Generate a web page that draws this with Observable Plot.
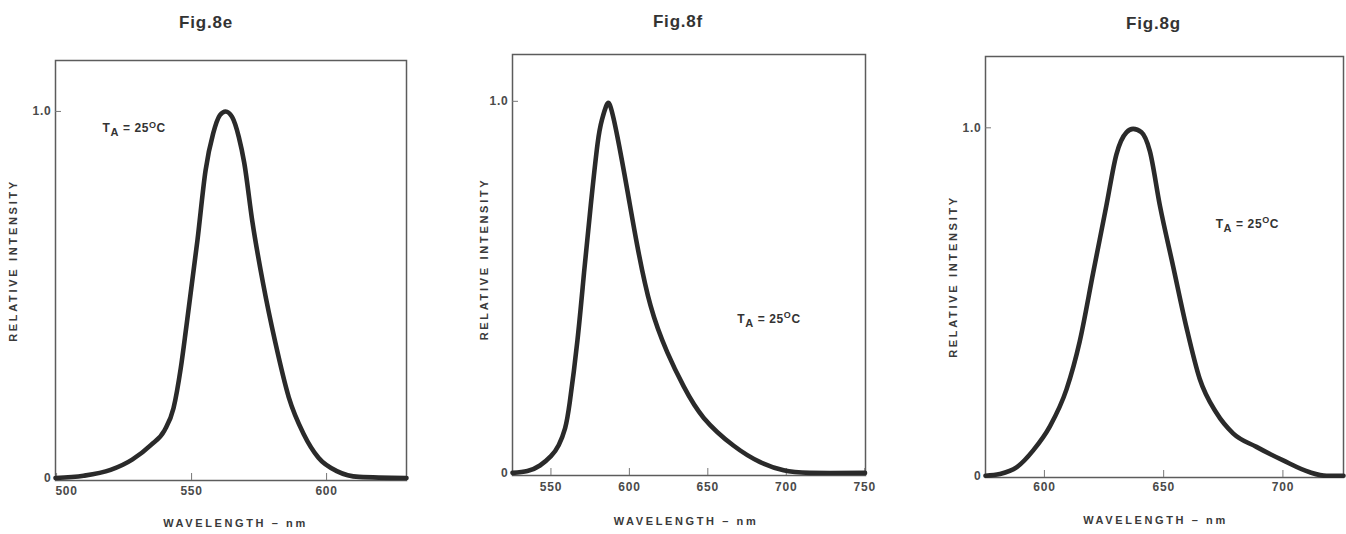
<!DOCTYPE html>
<html>
<head>
<meta charset="utf-8">
<script src="https://cdn.jsdelivr.net/npm/d3@7"></script>
<script src="https://cdn.jsdelivr.net/npm/@observablehq/plot@0.6"></script>
<style>
  body { margin: 0; background: #fff; }
  #wrap { position: relative; width: 1346px; height: 534px; background: #fff; overflow: hidden; }
  .panel { position: absolute; top: 0; }
  .panel svg text { font-weight: 700; }
</style>
</head>
<body>
<div id="wrap"></div>
<script>
// ---- data ----
const titles = ["Fig.8e", "Fig.8f", "Fig.8g"];
const xAxisLabel = "WAVELENGTH \u2013 nm";
const yAxisLabel = "RELATIVE INTENSITY";
const annotationParts = ["T", "A", " = 25", "O", "C"];

const yTicks = [0, 1];
const yTickLabels = ["0", "1.0"];

const fig8eXTicks = [500, 550, 600];
const fig8eWavelength = [499.6, 510, 520, 528, 535, 540, 543.3, 546, 548.1, 552.2, 555.2, 558, 560.5, 562.6, 565, 567.5, 569.5, 572.5, 576.5, 581, 586, 591.5, 597, 604, 612, 629.6];
const fig8eIntensity  = [0.0, 0.006, 0.022, 0.05, 0.09, 0.13, 0.19, 0.30, 0.415, 0.65, 0.84, 0.94, 0.99, 1.0, 0.985, 0.93, 0.86, 0.70, 0.53, 0.37, 0.22, 0.12, 0.055, 0.018, 0.003, 0.0];
const fig8eNote = [517, 0.954];

const fig8fXTicks = [550, 600, 650, 700, 750];
const fig8fWavelength = [525.5, 535, 543, 550, 555, 559, 562, 566.9, 571.1, 575.4, 579.7, 582.5, 585.5, 588, 592.4, 598.8, 605.1, 613.5, 624.1, 634.7, 647.4, 666.5, 683.4, 698.3, 715, 750.2];
const fig8fIntensity  = [0.0, 0.005, 0.02, 0.045, 0.075, 0.12, 0.19, 0.357, 0.539, 0.721, 0.885, 0.95, 0.99, 0.985, 0.904, 0.758, 0.61, 0.45, 0.325, 0.232, 0.148, 0.073, 0.029, 0.007, 0.0, 0.0];
const fig8fNote = [668.8, 0.415];

const fig8gXTicks = [600, 650, 700];
const fig8gWavelength = [575.3, 581.3, 588.3, 595.3, 602.3, 609.3, 614.8, 620.4, 626.0, 630.2, 634.4, 637.2, 640.7, 644.2, 648.4, 654.0, 659.6, 665.1, 672.1, 679.1, 688.9, 700.1, 711.3, 718.3, 725.4];
const fig8gIntensity  = [0.0, 0.005, 0.024, 0.073, 0.142, 0.249, 0.386, 0.582, 0.777, 0.924, 0.987, 0.997, 0.987, 0.933, 0.777, 0.601, 0.425, 0.279, 0.181, 0.122, 0.083, 0.044, 0.01, 0.0, 0.0];
const fig8gNote = [671.8, 0.724];

// ---- layout (per panel) ----
const panels = [
  { title: titles[0], wl: fig8eWavelength, ri: fig8eIntensity, xTicks: fig8eXTicks, note: fig8eNote,
    left: 0, width: 450, ml: 55, mr: 44, mt: 60, mb: 54,
    xDomain: [499.6, 629.6], yDomain: [-0.007, 1.139], curve: "monotone-x",
    firstTickDx: 10, xPad: 6, titleDx: -25, titleDy: -38,
    xLabDx: 4.5, xLabDy: 43, yLabDx: -42, yLabDy: -10 },
  { title: titles[1], wl: fig8fWavelength, ri: fig8fIntensity, xTicks: fig8fXTicks, note: fig8fNote,
    left: 450, width: 450, ml: 62, mr: 35, mt: 54, mb: 59,
    xDomain: [525.5, 750.5], yDomain: [-0.007, 1.126], curve: "natural",
    firstTickDx: 0, xPad: 6.5, titleDx: -11, titleDy: -33.4,
    xLabDx: -3, xLabDy: 46, yLabDx: -28.5, yLabDy: -6 },
  { title: titles[2], wl: fig8gWavelength, ri: fig8gIntensity, xTicks: fig8gXTicks, note: fig8gNote,
    left: 900, width: 446, ml: 85, mr: 3, mt: 56, mb: 57,
    xDomain: [575.3, 725.4], yDomain: [-0.005, 1.205], curve: "monotone-x",
    firstTickDx: 0, xPad: 5, titleDx: -11, titleDy: -33,
    xLabDx: -9, xLabDy: 43, yLabDx: -32, yLabDy: 9.5 }
];

const HEIGHT = 534;
const FONT = "'Liberation Sans', Arial, Helvetica, sans-serif";
const INK = "#3a3a3a";
const wrap = document.getElementById("wrap");

function draw(p) {
  const data = p.wl.map((w, i) => ({ w, v: p.ri[i] }));
  const yPx = (HEIGHT - p.mt - p.mb) / (p.yDomain[1] - p.yDomain[0]);
  const xPx = (p.width - p.ml - p.mr) / (p.xDomain[1] - p.xDomain[0]);
  const noteText = annotationParts.join("");
  const chart = Plot.plot({
    width: p.width,
    height: HEIGHT,
    marginLeft: p.ml, marginRight: p.mr, marginTop: p.mt, marginBottom: p.mb,
    x: { domain: p.xDomain, axis: null },
    y: { domain: p.yDomain, axis: null },
    style: { fontFamily: FONT, color: INK, background: "transparent", overflow: "visible" },
    marks: [
      Plot.frame({ stroke: "#5c5c5c", strokeWidth: 1.5 }),
      Plot.ruleX(p.xTicks, { x: d => d, y1: p.yDomain[0], y2: p.yDomain[0] + 7 / yPx, stroke: "#777", strokeWidth: 1 }),
      Plot.ruleY([1], { y: d => d, x1: p.xDomain[0], x2: p.xDomain[0] + 6 / xPx, stroke: "#777", strokeWidth: 1 }),
      Plot.axisX(p.xTicks.slice(0, 1), { tickSize: 0, tickPadding: p.xPad, dx: p.firstTickDx, fontSize: 12, fontWeight: "bold", fill: "#4a4a4a", label: null }),
      Plot.axisX(p.xTicks.slice(1), { tickSize: 0, tickPadding: p.xPad, fontSize: 12, fontWeight: "bold", fill: "#4a4a4a", label: null }),
      Plot.axisY(yTicks, { tickSize: 0, tickPadding: 4, fontSize: 12, fontWeight: "bold", fill: "#4a4a4a",
        tickFormat: d => yTickLabels[yTicks.indexOf(d)], label: null }),
      Plot.line(data, { x: "w", y: "v", curve: p.curve, stroke: "#2a2a2a", strokeWidth: 4.6,
        strokeLinejoin: "round", strokeLinecap: "round" }),
      Plot.text([p.title], { text: d => d, frameAnchor: "top", textAnchor: "middle", lineAnchor: "middle", dx: p.titleDx, dy: p.titleDy,
        fontSize: 17, fontWeight: "bold", fill: "#333" }),
      Plot.text([xAxisLabel], { text: d => d, frameAnchor: "bottom", textAnchor: "middle", lineAnchor: "middle", dx: p.xLabDx, dy: p.xLabDy,
        fontSize: 11, fontWeight: "bold", fill: "#3a3a3a" }),
      Plot.text([yAxisLabel], { text: d => d, frameAnchor: "left", textAnchor: "middle", lineAnchor: "middle", rotate: -90, dx: p.yLabDx, dy: p.yLabDy,
        fontSize: 11, fontWeight: "bold", fill: "#3a3a3a" }),
      Plot.text([p.note], { x: d => d[0], y: d => d[1], text: () => noteText, textAnchor: "start", lineAnchor: "middle",
        fontSize: 12, fontWeight: "bold", fill: "#333" })
    ]
  });
  const holder = document.createElement("div");
  holder.className = "panel";
  holder.style.left = p.left + "px";
  holder.appendChild(chart);
  wrap.appendChild(holder);

  const svg = d3.select(chart);
  svg.selectAll("text").each(function () {
    const t = d3.select(this);
    const s = this.textContent;
    if (s === yAxisLabel) t.style("letter-spacing", "2.7px");
    else if (s === xAxisLabel) t.style("letter-spacing", "2.6px");
    else if (s === p.title) t.style("letter-spacing", "0.8px");
    else if (s === noteText) {
      t.text(null).style("letter-spacing", "0.6px");
      t.append("tspan").text(annotationParts[0]);
      t.append("tspan").attr("dy", 4).attr("font-size", 11).text(annotationParts[1]);
      t.append("tspan").attr("dy", -4).text(annotationParts[2]);
      t.append("tspan").attr("dy", -4.5).attr("font-size", 9).text(annotationParts[3]);
      t.append("tspan").attr("dy", 4.5).text(annotationParts[4]);
    } else if (/^\d/.test(s)) t.style("letter-spacing", "0.8px");
  });
}

panels.forEach(draw);
</script>
</body>
</html>
